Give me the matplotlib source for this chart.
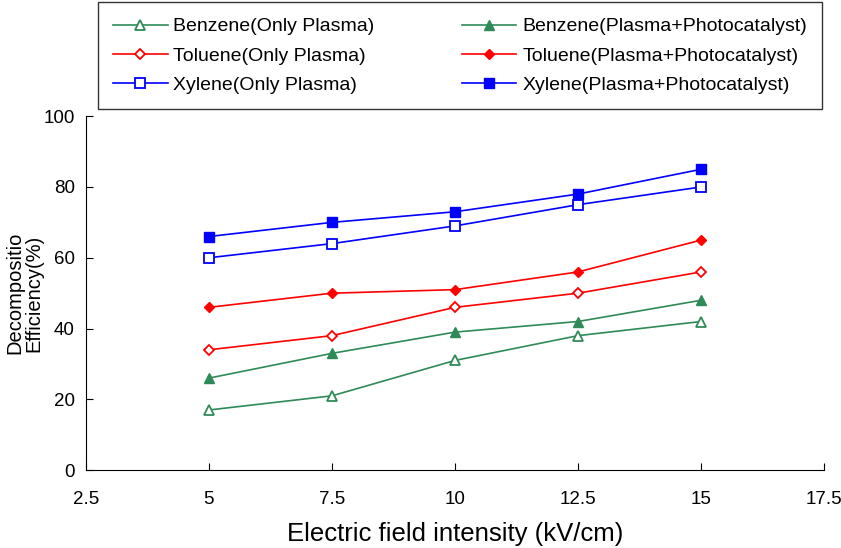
import matplotlib
matplotlib.use("Agg")
import matplotlib.pyplot as plt

plt.rcParams['font.family'] = ['Liberation Sans Narrow', 'Liberation Sans', 'DejaVu Sans']

field = [5, 7.5, 10, 12.5, 15]
benzene_plasma = [17, 21, 31, 38, 42]
benzene_photo = [26, 33, 39, 42, 48]
toluene_plasma = [34, 38, 46, 50, 56]
toluene_photo = [46, 50, 51, 56, 65]
xylene_plasma = [60, 64, 69, 75, 80]
xylene_photo = [66, 70, 73, 78, 85]

green = '#2e8b57'
red = '#ff0000'
blue = '#0000ff'

fig = plt.figure(figsize=(8.41, 5.48), dpi=100)
ax = fig.add_axes([0.102, 0.142, 0.878, 0.646])

ax.plot(field, benzene_plasma, color=green, marker='^', mfc='white', mec=green, ms=7, mew=1.3, lw=1.2, label='Benzene(Only Plasma)')
ax.plot(field, toluene_plasma, color=red, marker='D', mfc='white', mec=red, ms=5.5, mew=1.3, lw=1.2, label='Toluene(Only Plasma)')
ax.plot(field, xylene_plasma, color=blue, marker='s', mfc='white', mec=blue, ms=7, mew=1.3, lw=1.2, label='Xylene(Only Plasma)')
ax.plot(field, benzene_photo, color=green, marker='^', ms=7, lw=1.2, label='Benzene(Plasma+Photocatalyst)')
ax.plot(field, toluene_photo, color=red, marker='D', ms=5.5, lw=1.2, label='Toluene(Plasma+Photocatalyst)')
ax.plot(field, xylene_photo, color=blue, marker='s', ms=7, lw=1.2, label='Xylene(Plasma+Photocatalyst)')

ax.set_xlim(2.5, 17.5)
ax.set_ylim(0, 100)
ax.set_xticks([2.5, 5, 7.5, 10, 12.5, 15, 17.5])
ax.set_xticklabels(['2.5', '5', '7.5', '10', '12.5', '15', '17.5'])
ax.set_yticks([0, 20, 40, 60, 80, 100])
ax.spines['top'].set_visible(False)
ax.spines['right'].set_visible(False)
ax.tick_params(direction='in', labelsize=13.5, length=5, pad=8)
ax.tick_params(axis='x', pad=15)

ax.set_xlabel('Electric field intensity (kV/cm)', fontsize=18.5, labelpad=10)
ax.set_ylabel('Decompositio\nEfficiency(%)', fontsize=14.5, linespacing=1.0)
ax.yaxis.set_label_coords(-0.058, 0.5)

fig.legend(loc='upper left', bbox_to_anchor=(0.116, 0.812, 0.862, 0.184), mode='expand',
           ncol=2, fontsize=14, frameon=True, fancybox=False, edgecolor='black',
           handlelength=2.8, handletextpad=0.3, labelspacing=0.6,
           borderaxespad=0, borderpad=0.8)

fig.savefig('out.png', dpi=100)
